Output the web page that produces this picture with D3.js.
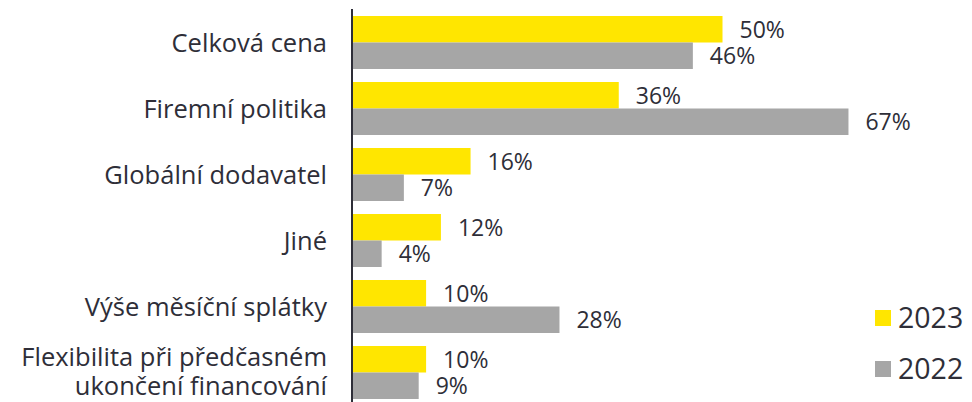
<!DOCTYPE html>
<html>
<head>
<meta charset="utf-8">
<script src="https://cdn.jsdelivr.net/npm/d3@7"></script>
<style>
  body { margin: 0; background: #fff; }
  svg { display: block; font-family: "Open Sans", Lato, sans-serif; font-weight: 400; }
</style>
</head>
<body>
<div id="chart"></div>
<script>
const categories = [
    ["Celková cena"],
    ["Firemní politika"],
    ["Globální dodavatel"],
    ["Jiné"],
    ["Výše měsíční splátky"],
    ["Flexibilita při předčasném", "ukončení financování"]
];
const years = ["2023", "2022"];
const values2023 = [50, 36, 16, 12, 10, 10];
const values2022 = [46, 67, 7, 4, 28, 9];

const props = {
    width: 972,
    height: 402,
    axisX: 352,
    pxPerPct: 7.41,
    colors: {"2023": "#FFE600", "2022": "#A6A6A6"},
    text: "#2E2E38",
    label: {fontSize: 25.5, gap: 25, lineHeight: 29},
    value: {fontSize: 23, gap: 17},
    legend: {fontSize: 28.5, x: 875, y: 310, size: 16, step: 51}
};

const rows = categories.map((c, i) => ({
    key: c.join(" "),
    lines: c,
    bars: [{year: "2023", value: values2023[i]}, {year: "2022", value: values2022[i]}]
}));

const svg = d3.select("#chart").append("svg")
    .attr("width", props.width)
    .attr("height", props.height);

const x = d3.scaleLinear()
    .domain([0, 100])
    .range([props.axisX, props.axisX + 100 * props.pxPerPct]);

const y0 = d3.scaleBand()
    .domain(rows.map((d) => d.key))
    .range([9.5, 9.5 + 66 * rows.length])
    .paddingInner(13 / 66)
    .paddingOuter(6.5 / 66);

const y1 = d3.scaleBand()
    .domain(years)
    .range([0, y0.bandwidth()]);

const groups = svg.append("g").attr("class", "barGroups")
    .selectAll(".barGroup")
    .data(rows)
    .join("g")
    .attr("class", "barGroup")
    .attr("transform", (d) => `translate(0,${y0(d.key)})`);

groups.selectAll(".bar")
    .data((d) => d.bars)
    .join("rect")
    .attr("class", "bar")
    .attr("x", x(0))
    .attr("y", (d) => y1(d.year))
    .attr("width", (d) => x(d.value) - x(0))
    .attr("height", y1.bandwidth())
    .attr("fill", (d) => props.colors[d.year]);

groups.selectAll(".valueLabel")
    .data((d) => d.bars)
    .join("text")
    .attr("class", "valueLabel")
    .attr("x", (d) => x(d.value) + props.value.gap)
    .attr("y", (d) => y1(d.year) + y1.bandwidth() / 2)
    .attr("dy", "0.36em")
    .attr("font-size", props.value.fontSize)
    .attr("fill", props.text)
    .text((d) => `${d.value}%`);

// category labels, right aligned against the axis
groups.append("text")
    .attr("class", "catLabel")
    .attr("text-anchor", "end")
    .attr("font-size", props.label.fontSize)
    .attr("fill", props.text)
    .each(function (d) {
        const t = d3.select(this);
        const n = d.lines.length;
        d.lines.forEach((line, i) => {
            t.append("tspan")
                .attr("x", props.axisX - props.label.gap)
                .attr("y", y0.bandwidth() / 2 + (i - (n - 1) / 2) * props.label.lineHeight - (n > 1 ? 1 : 0))
                .attr("dy", "0.36em")
                .text(line);
        });
    });

svg.append("line")
    .attr("x1", props.axisX)
    .attr("x2", props.axisX)
    .attr("y1", 9)
    .attr("y2", props.height)
    .attr("stroke", "#2E2E38")
    .attr("stroke-width", 2);

const legend = svg.append("g").attr("class", "legend")
    .selectAll(".legendItem")
    .data(years)
    .join("g")
    .attr("class", "legendItem")
    .attr("transform", (d, i) => `translate(${props.legend.x},${props.legend.y + i * props.legend.step})`);

legend.append("rect")
    .attr("width", props.legend.size)
    .attr("height", props.legend.size)
    .attr("fill", (d) => props.colors[d]);

legend.append("text")
    .attr("x", 23)
    .attr("y", props.legend.size / 2)
    .attr("dy", "0.36em")
    .attr("font-size", props.legend.fontSize)
    .attr("fill", props.text)
    .text((d) => d);
</script>
</body>
</html>
